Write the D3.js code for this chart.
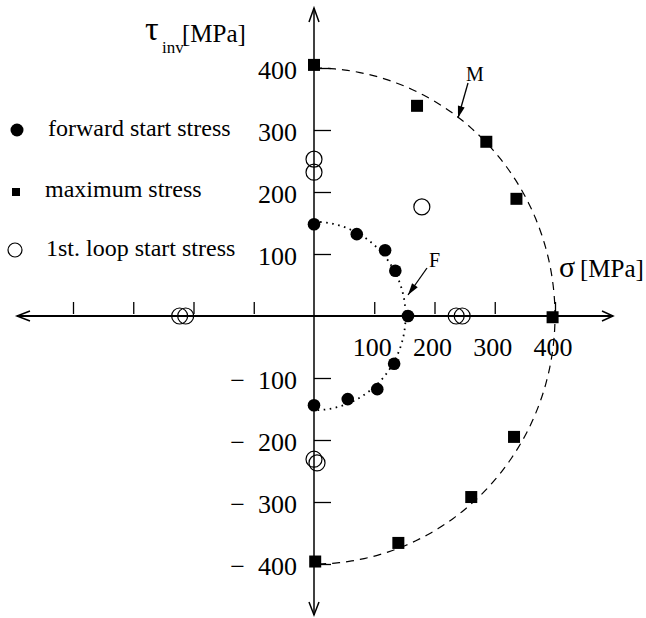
<!DOCTYPE html>
<html>
<head>
<meta charset="utf-8">
<script src="https://cdn.jsdelivr.net/npm/d3@7/dist/d3.min.js"></script>
<style>
  html, body { margin: 0; padding: 0; background: #fff; }
  svg { display: block; }
  text { font-family: "Liberation Serif", "Times New Roman", serif; fill: #000; }
</style>
</head>
<body>
<svg id="chart" width="646" height="618"></svg>
<script>
// Forward transformation start stresses (sigma, tau_inv) in MPa
const forwardSigma = [0, 71, 118, 135, 156, 133, 105, 56, 0];
const forwardTau   = [148, 132, 106, 73, 0, -77, -118, -134, -144];

// Maximum stresses reached in each loading path
const maxSigma = [0, 171, 286, 336, 396, 332, 261, 140, 2];
const maxTau   = [405, 339, 281, 189, -2, -195, -292, -366, -396];

// Start stresses of the first loop
const loopSigma = [0, 0, 179, 236, 246, -223, -213, 0, 5];
const loopTau   = [253, 232, 176, 0, 0, 0, 0, -231, -237];

// Tick values on both axes
const sigmaTicks = [-400, -300, -200, -100, 100, 200, 300, 400];
const sigmaLabels = [100, 200, 300, 400];
const tauTicks = [-400, -300, -200, -100, 100, 200, 300, 400];

// Radii of the fitted yield curves (MPa)
const curveM = 400;
const curveF = 152;

const legendItems = ["forward start stress", "maximum stress", "1st. loop start stress"];

const svg = d3.select("#chart");
svg.append("rect").attr("width", 646).attr("height", 618).attr("fill", "#fff");

const x = d3.scaleLinear().domain([0, 400]).range([314, 555]);
const y = d3.scaleLinear().domain([0, 400]).range([316, 68]);

// ---- axes with open arrowheads
const ax = svg.append("g").attr("stroke", "#000").attr("fill", "none");
ax.append("line").attr("x1", 17).attr("x2", 613).attr("y1", y(0)).attr("y2", y(0)).attr("stroke-width", 2);
ax.append("line").attr("x1", x(0)).attr("x2", x(0)).attr("y1", 8).attr("y2", 615).attr("stroke-width", 1.5);
const arrow = (pts) => ax.append("path").attr("d", d3.line()(pts)).attr("stroke-width", 1.5);
arrow([[602, y(0) - 5], [613, y(0)], [602, y(0) + 5]]);
arrow([[30, y(0) - 5], [17, y(0)], [30, y(0) + 5]]);
arrow([[x(0) - 5, 22], [x(0), 8], [x(0) + 5, 22]]);
arrow([[x(0) - 5, 602], [x(0), 615], [x(0) + 5, 602]]);

// ticks on the sigma axis point upward, ticks on the tau axis point right
const xTicks = svg.append("g").attr("transform", `translate(0,${y(0) - 2})`)
  .call(d3.axisTop(x).tickValues(sigmaTicks).tickSize(12).tickFormat(""));
const yTicks = svg.append("g").attr("transform", `translate(${x(0)},0)`)
  .call(d3.axisRight(y).tickValues(tauTicks).tickSize(17).tickFormat(""));
[xTicks, yTicks].forEach(g => {
  g.select(".domain").remove();
  g.selectAll("line").attr("stroke", "#000").attr("stroke-width", 1.3);
});

// tick labels
svg.append("g").selectAll("text").data(sigmaLabels).join("text")
  .attr("x", d => x(d) - 2).attr("y", 356)
  .attr("text-anchor", "middle").attr("font-size", 26)
  .text(d => d);
svg.append("g").selectAll("text").data(tauTicks).join("text")
  .attr("x", 297).attr("y", d => y(d) + 11)
  .attr("text-anchor", "end").attr("font-size", 26)
  .text(d => d < 0 ? "\u2212\u2002" + (-d) : d);

// axis titles
svg.append("text").attr("x", 145).attr("y", 40).attr("font-size", 34).text("τ");
svg.append("text").attr("x", 162).attr("y", 53).attr("font-size", 17).text("inv");
svg.append("text").attr("x", 182).attr("y", 42).attr("font-size", 25).text("[MPa]");
svg.append("text").attr("x", 559).attr("y", 277).attr("font-size", 30).text("σ");
svg.append("text").attr("x", 580).attr("y", 277).attr("font-size", 25).text("[MPa]");

// ---- fitted curves
const arcPts = (r) => d3.range(90, -90.5, -1).map(a => {
  const t = a * Math.PI / 180;
  return [x(r * Math.cos(t)), y(r * Math.sin(t))];
});
svg.append("path").attr("d", d3.line()(arcPts(curveM)))
  .attr("fill", "none").attr("stroke", "#000").attr("stroke-width", 1.2)
  .attr("stroke-dasharray", "8,6");
svg.append("path").attr("d", d3.line()(arcPts(curveF)))
  .attr("fill", "none").attr("stroke", "#000").attr("stroke-width", 1.8)
  .attr("stroke-dasharray", "1.6,4.5");

// ---- data marks
const forward = forwardSigma.map((s, i) => [s, forwardTau[i]]);
const maxima = maxSigma.map((s, i) => [s, maxTau[i]]);
const loops = loopSigma.map((s, i) => [s, loopTau[i]]);

svg.append("g").selectAll("circle").data(forward).join("circle")
  .attr("cx", d => x(d[0])).attr("cy", d => y(d[1])).attr("r", 6.3).attr("fill", "#000");
svg.append("g").selectAll("rect").data(maxima).join("rect")
  .attr("x", d => x(d[0]) - 6).attr("y", d => y(d[1]) - 6)
  .attr("width", 12).attr("height", 12).attr("fill", "#000");
svg.append("g").selectAll("circle").data(loops).join("circle")
  .attr("cx", d => x(d[0])).attr("cy", d => y(d[1])).attr("r", 8)
  .attr("fill", "none").attr("stroke", "#000").attr("stroke-width", 1.2);

// ---- curve labels with pointer arrows
function pointer(x1, y1, x2, y2) {
  svg.append("line").attr("x1", x1).attr("y1", y1).attr("x2", x2).attr("y2", y2)
    .attr("stroke", "#000").attr("stroke-width", 1.3);
  const ang = Math.atan2(y2 - y1, x2 - x1), L = 12, W = 3.5;
  const bx = x2 - L * Math.cos(ang), by = y2 - L * Math.sin(ang);
  const nx = -Math.sin(ang) * W, ny = Math.cos(ang) * W;
  svg.append("path").attr("d", d3.line()([[x2, y2], [bx + nx, by + ny], [bx - nx, by - ny]]) + "Z")
    .attr("fill", "#000");
}
pointer(468, 83, 458, 118);
svg.append("text").attr("x", 466).attr("y", 81).attr("font-size", 20).text("M");
pointer(427, 268, 408, 295);
svg.append("text").attr("x", 429).attr("y", 267).attr("font-size", 20).text("F");

// ---- legend
const lg = svg.append("g");
lg.append("circle").attr("cx", 17).attr("cy", 130).attr("r", 6.5).attr("fill", "#000");
lg.append("rect").attr("x", 12).attr("y", 188).attr("width", 8).attr("height", 8).attr("fill", "#000");
lg.append("circle").attr("cx", 15).attr("cy", 250).attr("r", 7)
  .attr("fill", "none").attr("stroke", "#000").attr("stroke-width", 1.2);
lg.selectAll("text").data(legendItems).join("text")
  .attr("x", (d, i) => [48, 45, 46][i]).attr("y", (d, i) => [136, 197, 256][i])
  .attr("font-size", 24).text(d => d);
</script>
</body>
</html>
